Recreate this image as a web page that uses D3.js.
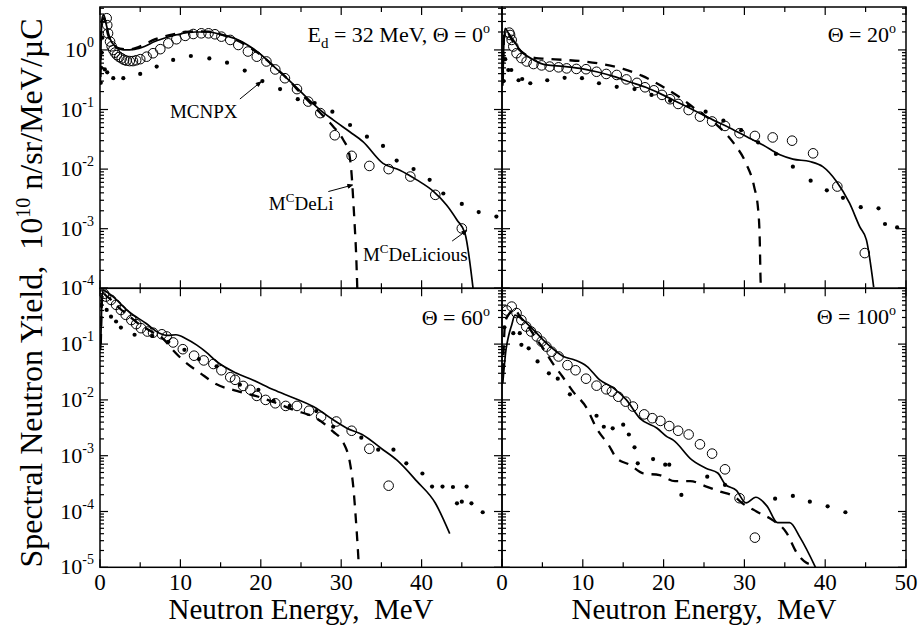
<!DOCTYPE html>
<html>
<head>
<meta charset="utf-8">
<script src="https://cdn.jsdelivr.net/npm/d3@7"></script>
<style>
  body { margin: 0; background: #fff; }
</style>
</head>
<body>
<div id="chart"></div>
<script>
// ---- data: [neutron energy MeV, yield] ----
// Theta = 0 deg
const expA = [[0.83,3.4],[0.9,2.6],[1.0,1.9],[1.25,1.38],[1.45,1.15],[1.65,1.0],[1.85,0.9],[2.1,0.82],[2.4,0.76],[2.7,0.72],[3.0,0.68],[3.3,0.66],[3.7,0.65],[4.1,0.65],[4.5,0.67],[5.0,0.70],[5.8,0.77],[6.6,0.88],[7.5,1.03],[8.5,1.29],[9.5,1.51],[10.6,1.72],[11.6,1.85],[12.6,1.9],[13.5,1.9],[14.3,1.83],[15.1,1.67],[16.2,1.47],[17.2,1.21],[18.4,0.94],[19.5,0.77],[20.7,0.64],[21.8,0.47],[23.0,0.335],[24.5,0.22],[25.9,0.136],[27.4,0.087],[29.2,0.037],[31.3,0.0167],[33.5,0.0113],[35.9,0.0100],[38.6,0.0075],[41.7,0.0037],[45.0,0.00101]];
const deliciousA = [[0.05,0.3],[0.2,2.5],[0.45,3.9],[0.8,2.6],[1.2,1.6],[1.9,1.15],[3.0,1.0],[4.3,1.02],[5.6,1.15],[6.8,1.38],[8.5,1.65],[10.2,1.88],[11.8,2.0],[13.5,2.0],[15.1,1.8],[16.8,1.55],[18.4,1.2],[20.1,0.82],[21.4,0.56],[23.0,0.36],[24.5,0.23],[26.0,0.145],[27.4,0.098],[29.0,0.067],[31.1,0.042],[32.7,0.029],[35.2,0.0125],[37.3,0.0096],[39.4,0.0066],[41.5,0.0042],[43.1,0.0025],[44.4,0.0014],[45.4,0.00083],[46.4,0.0001]];
const deliA = [[0.05,0.35],[0.2,3.0],[0.5,3.4],[1.0,1.8],[1.6,1.25],[2.5,1.05],[3.5,1.02],[4.5,1.08],[5.6,1.25],[6.8,1.5],[8.5,1.75],[10.2,1.95],[11.8,2.05],[13.5,2.02],[15.1,1.8],[16.8,1.5],[18.4,1.15],[20.1,0.8],[21.5,0.55],[23.0,0.36],[24.5,0.22],[26.0,0.135],[27.5,0.085],[29.0,0.052],[30.2,0.032],[31.0,0.018],[31.3,0.008],[31.5,0.003],[31.7,0.001],[31.85,0.0004],[32.0,0.0001]];
const mcnpxA = [[0.1,0.28],[0.15,0.5],[0.2,0.9],[0.3,1.6],[0.6,0.47],[0.9,0.42],[1.65,0.335],[2.9,0.335],[5.0,0.395],[7.05,0.525],[9.1,0.68],[11.3,0.79],[13.6,0.72],[15.8,0.61],[18.0,0.45],[20.2,0.30],[22.4,0.22],[24.6,0.149],[26.7,0.128],[28.9,0.092],[31.1,0.055],[33.2,0.035],[35.2,0.0245],[36.9,0.0139],[39.0,0.0100],[41.0,0.0066],[42.7,0.0039],[45.0,0.0026],[47.1,0.0019],[49.3,0.0016]];

// Theta = 20 deg
const expB = [[0.9,1.95],[1.0,1.78],[1.2,1.47],[1.4,1.14],[1.8,0.88],[2.4,0.73],[3.05,0.64],[3.9,0.58],[4.9,0.55],[5.9,0.525],[7.0,0.51],[8.0,0.49],[9.2,0.48],[10.4,0.475],[11.7,0.43],[12.9,0.395],[14.2,0.38],[15.4,0.32],[16.7,0.28],[17.7,0.236],[18.8,0.21],[19.8,0.176],[20.8,0.149],[21.8,0.124],[23.1,0.098],[24.5,0.076],[26.0,0.063],[27.6,0.053],[29.4,0.040],[31.3,0.036],[33.5,0.034],[35.9,0.030],[38.5,0.0184],[41.5,0.0051],[44.9,0.00039]];
const deliciousB = [[0.1,0.25],[0.25,1.5],[0.4,2.3],[0.8,1.9],[1.4,1.47],[2.0,1.1],[2.65,0.88],[3.9,0.68],[5.5,0.56],[7.6,0.53],[9.7,0.49],[11.7,0.43],[13.8,0.36],[15.8,0.29],[17.8,0.236],[19.9,0.176],[22.0,0.127],[24.1,0.092],[26.1,0.067],[28.2,0.049],[30.3,0.035],[32.3,0.0254],[34.4,0.0174],[36.0,0.0147],[38.1,0.0134],[39.7,0.011],[41.4,0.0062],[43.0,0.0027],[44.3,0.00106],[45.1,0.00065],[46.0,0.000105]];
const deliB = [[0.1,0.3],[0.3,2.0],[0.6,2.0],[1.2,1.5],[2.0,1.05],[3.0,0.82],[4.2,0.73],[5.3,0.71],[7.7,0.68],[10.2,0.64],[12.5,0.575],[15.0,0.48],[17.3,0.37],[19.7,0.25],[22.0,0.16],[24.1,0.098],[26.6,0.055],[28.7,0.027],[30.2,0.0125],[31.2,0.0051],[31.7,0.0021],[31.9,0.00065],[32.0,0.00014],[32.05,0.0001]];
const mcnpxB = [[0.2,0.3],[0.4,0.7],[0.78,0.46],[1.15,0.46],[2.05,0.31],[2.5,0.325],[3.5,0.276],[5.6,0.31],[7.75,0.34],[9.9,0.335],[12.0,0.276],[14.2,0.24],[16.4,0.22],[18.5,0.176],[20.8,0.14],[23.1,0.115],[25.2,0.092],[27.4,0.065],[29.6,0.045],[31.7,0.028],[33.9,0.018],[36.0,0.011],[38.2,0.0064],[40.2,0.0044],[42.2,0.0033],[44.4,0.0023],[46.6,0.0022],[47.4,0.0012],[48.9,0.00105]];

// Theta = 60 deg
const expC = [[0.5,0.8],[0.75,0.71],[1.37,0.62],[2.0,0.506],[2.6,0.41],[3.2,0.335],[3.9,0.27],[4.5,0.228],[5.1,0.193],[5.9,0.168],[6.6,0.16],[7.7,0.15],[8.3,0.137],[9.1,0.107],[10.3,0.081],[11.7,0.062],[12.9,0.051],[14.1,0.044],[15.1,0.034],[16.2,0.0255],[16.8,0.0229],[17.8,0.0178],[18.7,0.0152],[19.5,0.0118],[20.6,0.010],[21.8,0.0087],[23.1,0.0078],[24.5,0.0078],[26.0,0.0064],[27.5,0.005],[29.4,0.0041],[31.3,0.0028],[33.5,0.00133],[35.9,0.00029]];
const deliciousC = [[0.08,0.08],[0.33,0.94],[0.6,0.9],[1.6,0.71],[3.6,0.38],[5.7,0.237],[7.4,0.157],[8.4,0.143],[9.45,0.147],[10.7,0.125],[12.0,0.097],[13.2,0.072],[14.5,0.0487],[17.0,0.030],[19.0,0.0228],[21.6,0.0152],[24.1,0.0108],[26.9,0.0071],[29.0,0.0044],[30.7,0.0031],[32.6,0.0024],[35.2,0.00128],[36.9,0.00084],[39.4,0.00035],[41.7,0.000142],[43.5,0.00004]];
const deliC = [[0.1,0.1],[0.3,0.85],[0.7,0.75],[1.5,0.6],[2.5,0.43],[3.5,0.33],[4.5,0.25],[5.5,0.2],[6.5,0.165],[7.3,0.145],[8.0,0.119],[9.0,0.08],[10.3,0.052],[12.5,0.030],[14.5,0.019],[17.0,0.0145],[19.7,0.0114],[22.0,0.0087],[24.1,0.0066],[26.9,0.0047],[29.0,0.0027],[30.3,0.00168],[31.1,0.00073],[31.5,0.00028],[31.8,0.000081],[32.1,0.000018],[32.2,0.00001]];
const mcnpxC = [[0.15,0.5],[0.83,0.41],[1.37,0.31],[2.0,0.254],[2.6,0.198],[4.3,0.147],[6.5,0.14],[8.5,0.11],[10.5,0.079],[12.3,0.054],[14.5,0.040],[17.4,0.0187],[19.7,0.0152],[21.6,0.0096],[23.6,0.0078],[26.9,0.0063],[29.0,0.0033],[32.5,0.0021],[34.6,0.00128],[36.5,0.00128],[38.1,0.00073],[40.1,0.00048],[41.3,0.00028],[42.6,0.00028],[43.9,0.000275],[44.4,0.00014],[45.0,0.00015],[45.6,0.00028],[46.2,0.00014],[47.6,0.000097]];

// Theta = 100 deg
const expD = [[0.6,0.4],[1.2,0.47],[1.8,0.36],[2.4,0.27],[3.0,0.206],[3.6,0.168],[4.3,0.137],[4.9,0.111],[5.5,0.090],[6.15,0.073],[7.0,0.060],[8.1,0.042],[9.1,0.034],[10.4,0.024],[11.7,0.018],[12.9,0.0155],[13.6,0.0141],[14.4,0.0114],[15.3,0.0093],[16.2,0.0076],[17.6,0.0055],[18.6,0.0047],[19.6,0.0042],[20.7,0.0034],[21.8,0.0028],[23.1,0.0024],[24.5,0.0016],[26.0,0.00109],[27.6,0.00057],[29.4,0.000173],[31.3,0.000034]];
const deliciousD = [[0.1,0.02],[0.5,0.08],[0.8,0.137],[1.2,0.22],[1.6,0.33],[2.2,0.3],[3.5,0.206],[5.5,0.104],[7.6,0.060],[9.0,0.052],[10.5,0.040],[12.1,0.0228],[13.8,0.0163],[15.4,0.010],[17.1,0.0046],[19.2,0.0031],[20.4,0.0022],[21.2,0.0019],[23.5,0.00084],[25.3,0.00059],[26.7,0.00049],[27.6,0.00031],[29.0,0.00024],[30.2,0.000143],[31.4,0.00018],[32.8,0.000125],[34.1,0.000063],[35.6,0.000063],[36.9,0.000034],[38.8,0.00001]];
const deliD = [[0.1,0.03],[0.4,0.25],[0.9,0.35],[1.5,0.42],[2.3,0.3],[3.3,0.2],[4.5,0.11],[5.5,0.069],[6.0,0.052],[7.5,0.026],[8.8,0.0141],[10.5,0.0071],[11.7,0.0031],[13.2,0.00155],[14.2,0.0009],[15.8,0.00069],[17.5,0.00048],[19.5,0.00045],[21.4,0.00035],[23.3,0.00035],[25.3,0.00028],[26.9,0.00023],[29.0,0.000175],[29.5,0.00015],[31.5,0.0001],[33.5,0.00007],[35.2,0.000042],[36.5,0.000018],[37.7,0.000012],[38.7,0.000011]];
const mcnpxD = [[0.3,0.2],[1.4,0.157],[2.2,0.157],[2.4,0.097],[3.3,0.084],[4.4,0.049],[5.8,0.030],[6.9,0.024],[8.4,0.0126],[11.7,0.0052],[12.6,0.0033],[13.7,0.0031],[15.0,0.0036],[15.7,0.0024],[16.4,0.00141],[16.8,0.00073],[18.7,0.00087],[20.2,0.00069],[20.7,0.00069],[22.2,0.000198],[25.4,0.00042],[27.6,0.0003],[33.8,0.00017],[36.0,0.00019],[38.1,0.00015],[40.3,0.000124],[42.5,0.000097]];

const xTicksLeft = [0, 10, 20, 30, 40];
const xTicksRight = [0, 10, 20, 30, 40, 50];
const yLabelsTop = [0, -1, -2, -3, -4];
const yLabelsBottom = [-1, -2, -3, -4, -5];

// ---- layout ----
const width = 920, height = 628;
const svg = d3.select("#chart").append("svg")
  .attr("width", width).attr("height", height)
  .attr("font-family", "Liberation Serif");

const xLeft = d3.scaleLinear().domain([0, 50]).range([100, 502]);
const xRight = d3.scaleLinear().domain([0, 50]).range([502, 906]);
const yTop = d3.scaleLog().domain([1e-4, 5.25]).range([288.3, 7]);
const yBot = d3.scaleLog().domain([1e-5, 1]).range([567.3, 288.3]);

const panels = [
  { id: "a", x: xLeft, y: yTop, exp: expA, solid: deliciousA, dash: deliA, mc: mcnpxA },
  { id: "b", x: xRight, y: yTop, exp: expB, solid: deliciousB, dash: deliB, mc: mcnpxB },
  { id: "c", x: xLeft, y: yBot, exp: expC, solid: deliciousC, dash: deliC, mc: mcnpxC },
  { id: "d", x: xRight, y: yBot, exp: expD, solid: deliciousD, dash: deliD, mc: mcnpxD }
];

function drawPanel(p) {
  const x = p.x, y = p.y;
  const x0 = x.range()[0], x1 = x.range()[1];
  const yb = y.range()[0], yt = y.range()[1];
  const g = svg.append("g");

  g.append("clipPath").attr("id", "clip" + p.id)
    .append("rect").attr("x", x0).attr("y", yt).attr("width", x1 - x0).attr("height", yb - yt);

  const plot = g.append("g").attr("clip-path", "url(#clip" + p.id + ")");
  const line = d3.line().x(d => x(d[0])).y(d => y(d[1])).curve(d3.curveMonotoneX);

  plot.append("path").datum(p.dash)
    .attr("d", line).attr("fill", "none").attr("stroke", "#000")
    .attr("stroke-width", 2.3).attr("stroke-dasharray", "10,8");
  plot.append("path").datum(p.solid)
    .attr("d", line).attr("fill", "none").attr("stroke", "#000")
    .attr("stroke-width", 1.7);
  plot.selectAll(".mc").data(p.mc).enter().append("circle")
    .attr("cx", d => x(d[0])).attr("cy", d => y(d[1])).attr("r", 2.1).attr("fill", "#000");
  plot.selectAll(".ex").data(p.exp).enter().append("circle")
    .attr("cx", d => x(d[0])).attr("cy", d => y(d[1])).attr("r", 4.8)
    .attr("fill", "none").attr("stroke", "#000").attr("stroke-width", 1);

  // ticks, all pointing inwards
  const ticks = g.append("g").attr("stroke", "#000").attr("stroke-width", 1.2);
  d3.range(0, 51, 5).forEach(e => {
    const len = e % 10 === 0 ? 8 : 5;
    ticks.append("line").attr("x1", x(e)).attr("x2", x(e)).attr("y1", yb).attr("y2", yb - len);
    ticks.append("line").attr("x1", x(e)).attr("x2", x(e)).attr("y1", yt).attr("y2", yt + len);
  });
  const [lo, hi] = y.domain();
  for (let k = Math.floor(Math.log10(lo)); k <= Math.ceil(Math.log10(hi)); k++) {
    for (let m = 1; m <= 9; m++) {
      const v = m * Math.pow(10, k);
      if (v < lo * 0.999 || v > hi) continue;
      const len = m === 1 ? 8 : 4;
      ticks.append("line").attr("x1", x0).attr("x2", x0 + len).attr("y1", y(v)).attr("y2", y(v));
      ticks.append("line").attr("x1", x1).attr("x2", x1 - len).attr("y1", y(v)).attr("y2", y(v));
    }
  }

  g.append("rect").attr("x", x0).attr("y", yt).attr("width", x1 - x0).attr("height", yb - yt)
    .attr("fill", "none").attr("stroke", "#000").attr("stroke-width", 1.5);
}

panels.forEach(drawPanel);

// y tick labels on the left panels
function yLabels(scale, exps) {
  exps.forEach(k => {
    const t = svg.append("text").attr("x", 94).attr("y", scale(Math.pow(10, k)) + 7)
      .attr("text-anchor", "end").attr("font-size", 22);
    t.append("tspan").text("10");
    t.append("tspan").attr("dy", -10).attr("font-size", 14).text(k);
  });
}
yLabels(yTop, yLabelsTop);
yLabels(yBot, yLabelsBottom);

// x tick labels on the bottom panels
function xLabels(scale, vals) {
  svg.selectAll(null).data(vals).enter().append("text")
    .attr("x", d => scale(d)).attr("y", 590)
    .attr("text-anchor", "middle").attr("font-size", 23).text(d => d);
}
xLabels(xLeft, xTicksLeft);
xLabels(xRight, xTicksRight);

// axis titles
[xLeft, xRight].forEach(s => {
  svg.append("text").attr("x", (s.range()[0] + s.range()[1]) / 2).attr("y", 619)
    .attr("text-anchor", "middle").attr("font-size", 29)
    .text("Neutron Energy,\u00a0\u00a0MeV");
});

const yt = svg.append("text")
  .attr("transform", "translate(42," + 293 + ") rotate(-90)")
  .attr("text-anchor", "middle").attr("font-size", 32);
yt.append("tspan").text("Spectral Neutron Yield,\u00a0\u00a010");
yt.append("tspan").attr("dy", -12).attr("font-size", 20).text("10");
yt.append("tspan").attr("dy", 12).text("\u00a0n/sr/MeV/\u00b5C");

// panel labels
function panelLabel(x, y, parts) {
  const t = svg.append("text").attr("x", x).attr("y", y)
    .attr("text-anchor", "end").attr("font-size", 22);
  parts.forEach(p => {
    const s = t.append("tspan").text(p.t);
    if (p.dy) s.attr("dy", p.dy);
    if (p.fs) s.attr("font-size", p.fs);
  });
}
panelLabel(490, 42, [{ t: "E" }, { t: "d", dy: 6, fs: 15 }, { t: " = 32 MeV, \u0398 = 0", dy: -6 }, { t: "o", dy: -9, fs: 14 }]);
panelLabel(896, 42, [{ t: "\u0398 = 20" }, { t: "o", dy: -9, fs: 14 }]);
panelLabel(490, 325, [{ t: "\u0398 = 60" }, { t: "o", dy: -9, fs: 14 }]);
panelLabel(896, 324, [{ t: "\u0398 = 100" }, { t: "o", dy: -9, fs: 14 }]);

// curve annotations (placed in data coordinates of the top-left panel)
const ann = svg.append("g").attr("stroke", "#000").attr("stroke-width", 1);
function pointer(x1, y1, x2, y2) {
  ann.append("line").attr("x1", x1).attr("y1", y1).attr("x2", x2).attr("y2", y2);
  const a = Math.atan2(y2 - y1, x2 - x1), l = 5;
  ann.append("path")
    .attr("d", `M${x2},${y2}L${x2 - l * Math.cos(a - 0.4)},${y2 - l * Math.sin(a - 0.4)}L${x2 - l * Math.cos(a + 0.4)},${y2 - l * Math.sin(a + 0.4)}Z`)
    .attr("fill", "#000");
}
svg.append("text").attr("x", xLeft(8.7)).attr("y", yTop(0.072)).attr("font-size", 19).text("MCNPX");
pointer(xLeft(17.4), yTop(0.15), xLeft(20.0), yTop(0.29));

const t1 = svg.append("text").attr("x", xLeft(21.0)).attr("y", yTop(0.0021)).attr("font-size", 19);
t1.append("tspan").text("M");
t1.append("tspan").attr("dy", -8).attr("font-size", 13).text("C");
t1.append("tspan").attr("dy", 8).text("DeLi");
pointer(xLeft(28.4), yTop(0.0042), xLeft(31.4), yTop(0.0054));

const t2 = svg.append("text").attr("x", xLeft(32.7)).attr("y", yTop(0.00029)).attr("font-size", 19);
t2.append("tspan").text("M");
t2.append("tspan").attr("dy", -8).attr("font-size", 13).text("C");
t2.append("tspan").attr("dy", 8).text("DeLicious");
pointer(xLeft(43.8), yTop(0.00062), xLeft(45.6), yTop(0.00093));
</script>
</body>
</html>
